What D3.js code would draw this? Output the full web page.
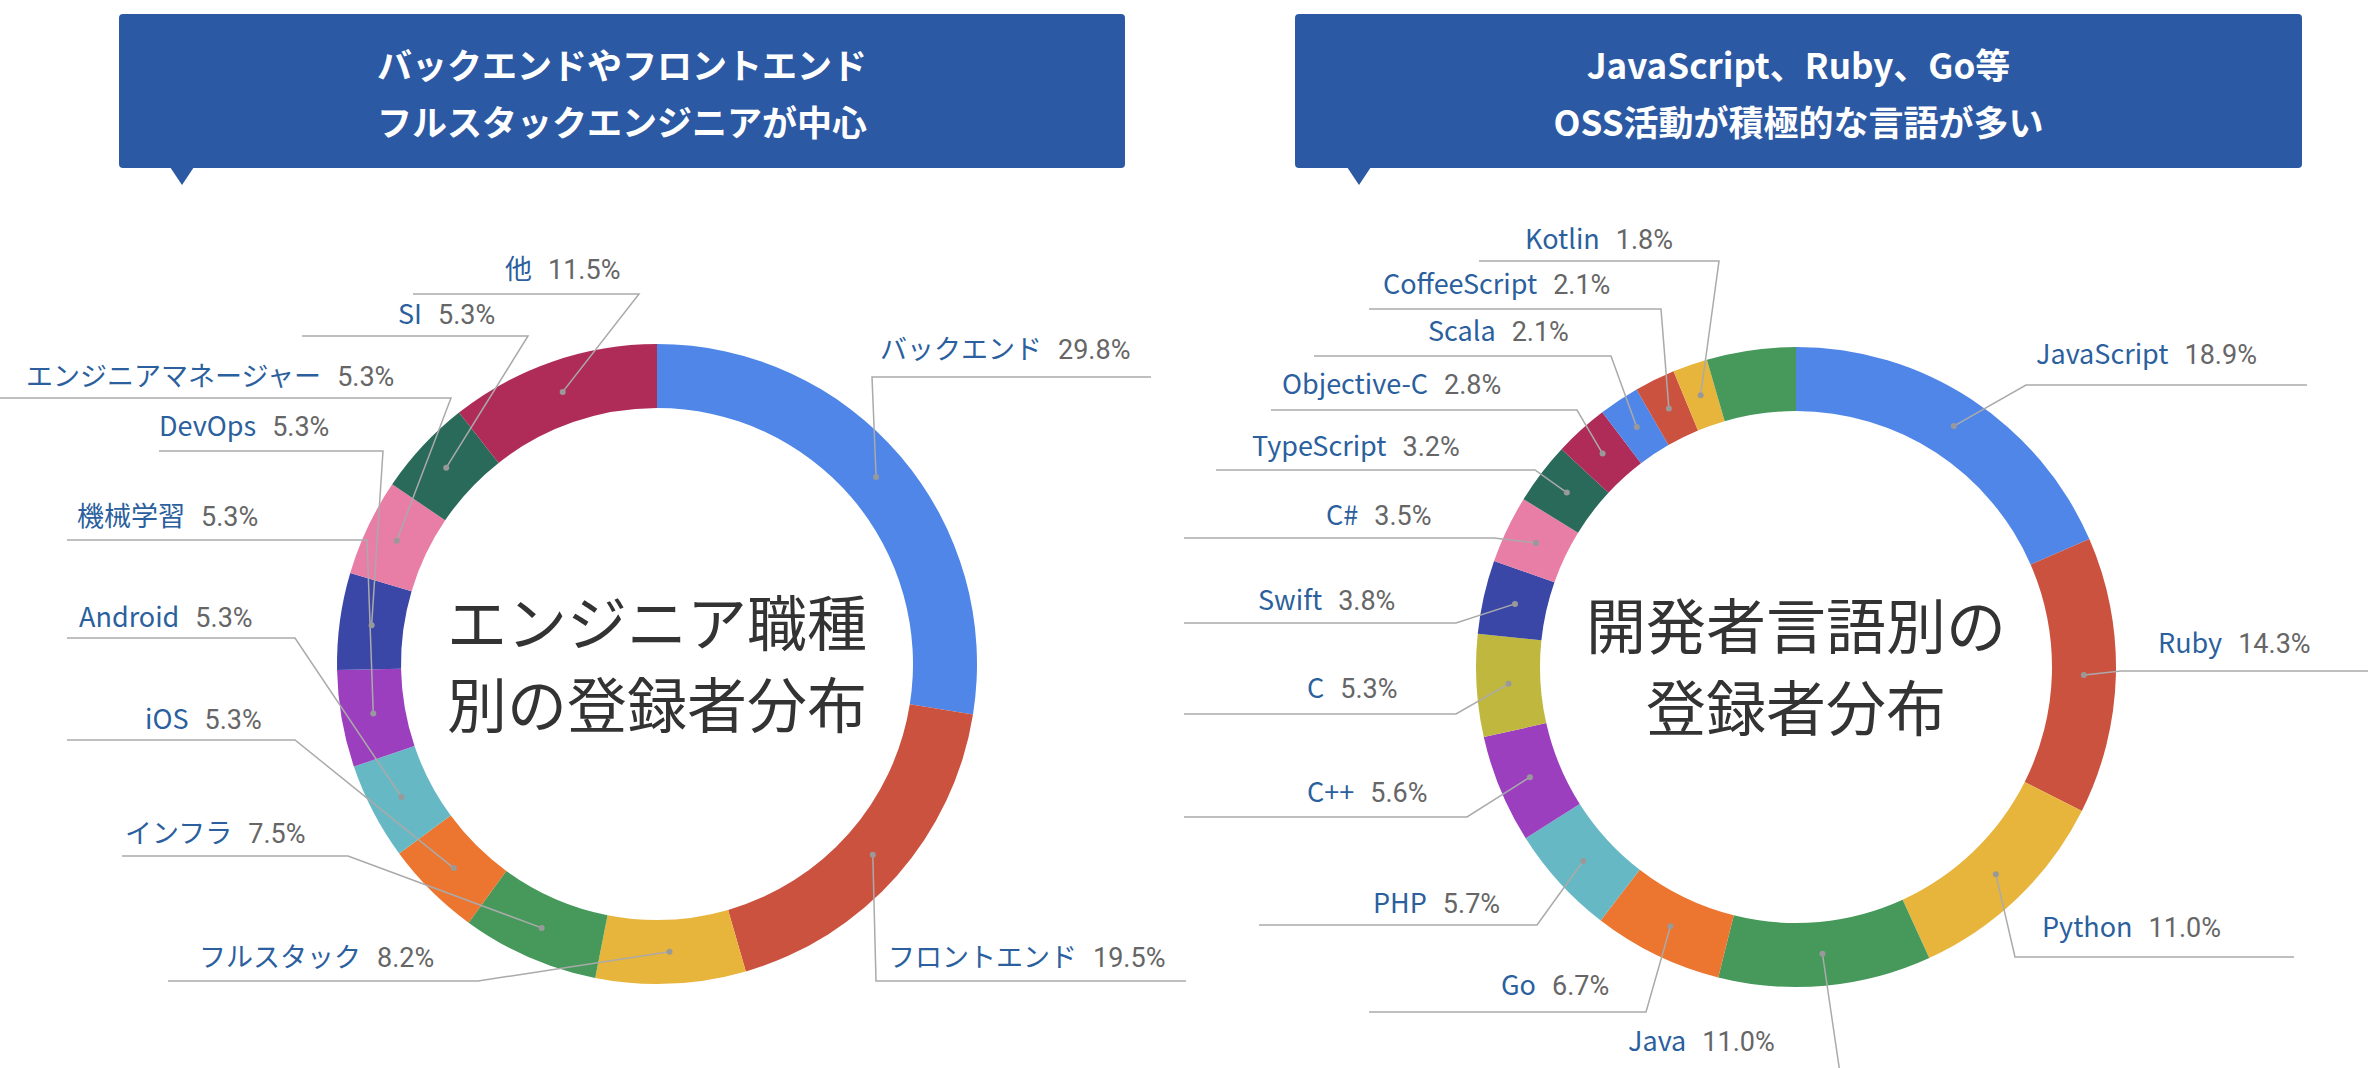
<!DOCTYPE html>
<html><head><meta charset="utf-8">
<script src="https://cdn.jsdelivr.net/npm/d3@7"></script>
<style>body{margin:0;background:#fff;font-family:"Noto Sans CJK JP","Noto Sans",sans-serif;}</style>
</head><body>
<svg id="chart" width="2368" height="1068"></svg>
<script>
// left: engineer roles
const roleNames = ["バックエンド", "フロントエンド", "フルスタック", "インフラ", "iOS", "Android", "機械学習", "DevOps", "エンジニアマネージャー", "SI", "他"];
const roleValues = [29.8, 19.5, 8.2, 7.5, 5.3, 5.3, 5.3, 5.3, 5.3, 5.3, 11.5];
const roleColors = ["#4f86e8", "#cc5240", "#e8b53c", "#46995b", "#ec7530", "#66b9c4", "#9b3fbf", "#3b47a6", "#e87ea6", "#2a6a5a", "#b02c58"];

// right: languages (last slice is unlabeled)
const langNames = ["JavaScript", "Ruby", "Python", "Java", "Go", "PHP", "C++", "C", "Swift", "C#", "TypeScript", "Objective-C", "Scala", "CoffeeScript", "Kotlin", ""];
const langValues = [18.9, 14.3, 11.0, 11.0, 6.7, 5.7, 5.6, 5.3, 3.8, 3.5, 3.2, 2.8, 2.1, 2.1, 1.8, 4.6];
const langColors = ["#4f86e8", "#cc5240", "#e8b53c", "#46995b", "#ec7530", "#66b9c4", "#9b3fbf", "#c0b83e", "#3b47a6", "#e87ea6", "#2a6a5a", "#b02c58", "#4f86e8", "#cc5240", "#e8b53c", "#46995b"];

// label layout: [textX, baselineY, lineX1, lineX2, lineY]
const roleLabelPos = [
  [880, 359, 872, 1151, 377], [888, 967, 876, 1186, 981], [199, 967, 168, 478, 981],
  [125, 843, 122, 348, 856], [145, 729, 67, 295, 740], [79, 627, 67, 295, 638],
  [77, 526, 67, 367, 540], [159, 436, 159, 383, 451], [26, 386, 0, 451, 398],
  [398, 324, 302, 528, 336], [505, 279, 413, 639, 294]
];
const langLabelPos = [
  [2036, 364, 2026, 2307, 385], [2158, 653, 2121, 2368, 671], [2042, 937, 2015, 2294, 957],
  [1628, 1051, 1841, 2100, 1080], [1501, 995, 1369, 1646, 1012], [1373, 913, 1259, 1537, 925],
  [1307, 802, 1184, 1467, 817], [1307, 698, 1184, 1456, 714], [1258, 610, 1184, 1456, 623],
  [1326, 525, 1184, 1494, 538], [1252, 456, 1216, 1535, 470], [1282, 394, 1271, 1577, 410],
  [1428, 341, 1314, 1611, 356], [1383, 294, 1369, 1661, 309], [1525, 249, 1479, 1719, 261], null
];

const svg = d3.select("#chart");

function header(x, w, pointerX, lines) {
  const g = svg.append("g");
  g.append("rect").attr("x", x).attr("y", 14).attr("width", w).attr("height", 154).attr("rx", 4).attr("fill", "#2c59a3");
  g.append("path").attr("d", `M${pointerX - 12},167 L${pointerX + 12},167 L${pointerX},185 Z`).attr("fill", "#2c59a3");
  lines.forEach((t, i) => g.append("text").attr("x", x + w / 2).attr("y", 79 + i * 57)
    .attr("text-anchor", "middle").attr("fill", "#fff").attr("font-size", 35).attr("font-weight", "bold").text(t));
}
header(119, 1006, 182, ["バックエンドやフロントエンド", "フルスタックエンジニアが中心"]);
header(1295, 1007, 1359, ["JavaScript、Ruby、Go等", "OSS活動が積極的な言語が多い"]);

function donut(cx, cy, names, values, colors, pos, center) {
  const ro = 320, ri = 256;
  const pie = d3.pie().sort(null)(values);
  const arc = d3.arc().innerRadius(ri).outerRadius(ro);
  const mid = d3.arc().innerRadius((ri + ro) / 2).outerRadius((ri + ro) / 2);
  const g = svg.append("g").attr("transform", `translate(${cx},${cy})`);
  g.selectAll("path").data(pie).enter().append("path")
    .attr("d", arc).attr("fill", (d, i) => colors[i]);

  pie.forEach((d, i) => {
    const p = pos[i];
    if (!p) return;
    const [tx, ty, x1, x2, ly] = p;
    const c = mid.centroid(d);
    const px = cx + c[0], py = cy + c[1];
    const endX = Math.abs(x1 - cx) < Math.abs(x2 - cx) ? x1 : x2;
    svg.append("polyline")
      .attr("points", `${px},${py} ${endX},${ly} ${endX === x1 ? x2 : x1},${ly}`)
      .attr("fill", "none").attr("stroke", "#aaa").attr("stroke-width", 1.5);
    svg.append("circle").attr("cx", px).attr("cy", py).attr("r", 3).attr("fill", "#999");
    const t = svg.append("text").attr("x", tx).attr("y", ty).attr("font-size", 27);
    t.append("tspan").attr("fill", "#2b5f9e").text(names[i]);
    t.append("tspan").attr("dx", 16).attr("fill", "#666").attr("font-family", "Roboto, sans-serif").text(values[i].toFixed(1) + "%");
  });

  center.forEach((s, i) => svg.append("text").attr("x", cx).attr("y", cy - 18 + i * 82)
    .attr("text-anchor", "middle").attr("font-size", 60).attr("fill", "#333").text(s));
}

donut(657, 664, roleNames, roleValues, roleColors, roleLabelPos, ["エンジニア職種", "別の登録者分布"]);
donut(1796, 667, langNames, langValues, langColors, langLabelPos, ["開発者言語別の", "登録者分布"]);
</script>
</body></html>
